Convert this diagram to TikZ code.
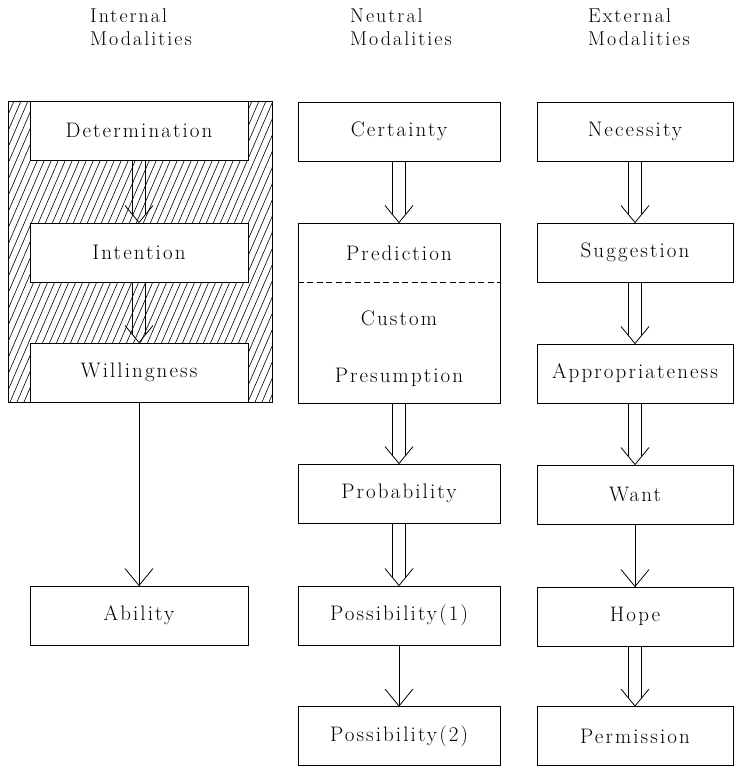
\documentclass[tikz,border=0pt]{standalone}
\usepackage{fontspec}
\setmainfont{Latin Modern Roman}[LetterSpace=10]
\usetikzlibrary{calc}
\tikzset{
  box/.style={draw, line width=1pt, fill=white, minimum height=59pt, inner sep=0pt,
    font=\fontsize{21}{24}\selectfont},
  lbox/.style={box, minimum width=218pt},
  mbox/.style={box, minimum width=202pt},
  rbox/.style={box, minimum width=196pt},
  txt/.style={inner sep=0pt, font=\fontsize{21}{24}\selectfont},
  head/.style={inner sep=0pt, align=left, anchor=north west, font=\fontsize{20}{23}\selectfont},
  conn/.style={line width=0.8pt},
  hatch/.style={line width=0.6pt}
}
\newcommand{\dblarr}[2]{%
  \draw[conn] ($(#1.south)+(-6.5,0)$) -- ($(#2.north)+(-6.5,-8.5)$);
  \draw[conn] ($(#1.south)+(6.5,0)$) -- ($(#2.north)+(6.5,-8.5)$);
  \draw[conn] ($(#2.north)+(-14,-17)$) -- (#2.north) -- ($(#2.north)+(14,-17)$);
}
\newcommand{\sglarr}[2]{%
  \draw[conn] (#1.south) -- (#2.north);
  \draw[conn] ($(#2.north)+(-14,-17)$) -- (#2.north) -- ($(#2.north)+(14,-17)$);
}
\begin{document}
\begin{tikzpicture}[x=1pt,y=-1pt]
\useasboundingbox (0,0) rectangle (736,768);
% headers
\node[head] (h1) at (90,8) {Internal\\Modalities};
\node[head] (h2) at (350,8) {Neutral\\Modalities};
\node[head] (h3) at (588,8) {External\\Modalities};
% hatched region
\begin{scope}
  \clip (8,101) rectangle (272,402);
  \foreach \i in {-200,-193,...,300} {
    \draw[hatch] (\i,402) -- ({\i+130},101);
  }
\end{scope}
\draw[line width=1pt] (8,101) rectangle (272,402);
% left column
\node[lbox] (det) at (139,130.5) {Determination};
\node[lbox] (int) at (139,252.5) {Intention};
\node[lbox] (wil) at (139,372.5) {Willingness};
\node[lbox] (abi) at (139,615.5) {Ability};
% middle column
\node[mbox] (cer) at (399,131.5) {Certainty};
\node[mbox, minimum height=180pt] (pred) at (399,313) {};
\node[txt] (predt) at (399,253) {Prediction};
\node[txt] (cust) at (399,318) {Custom};
\node[txt] (pres) at (399,377) {Presumption};
\draw[line width=0.9pt, dash pattern=on 6pt off 3.5pt] (pred.west |- 0,282) -- (pred.east |- 0,282);
\node[mbox] (prob) at (399,493.5) {Probability};
\node[mbox] (pos1) at (399,615.5) {Possibility(1)};
\node[mbox] (pos2) at (399,736) {Possibility(2)};
% right column
\node[rbox] (nec) at (635,131.5) {Necessity};
\node[rbox] (sug) at (635,252.5) {Suggestion};
\node[rbox] (app) at (635,373.5) {Appropriateness};
\node[rbox] (wan) at (635,494.5) {Want};
\node[rbox] (hop) at (635,616.5) {Hope};
\node[rbox] (per) at (635,736) {Permission};
% arrows
\dblarr{det}{int}
\dblarr{int}{wil}
\sglarr{wil}{abi}
\dblarr{cer}{pred}
\dblarr{pred}{prob}
\dblarr{prob}{pos1}
\sglarr{pos1}{pos2}
\dblarr{nec}{sug}
\dblarr{sug}{app}
\dblarr{app}{wan}
\sglarr{wan}{hop}
\dblarr{hop}{per}
\end{tikzpicture}
\end{document}
